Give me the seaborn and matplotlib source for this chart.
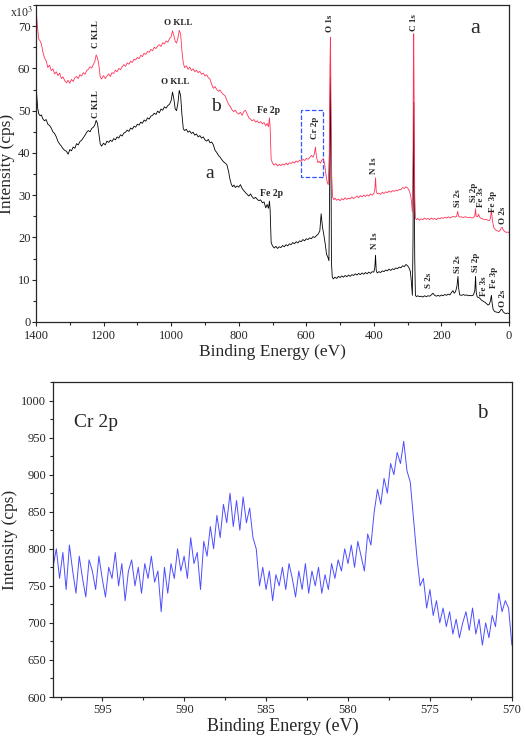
import matplotlib
matplotlib.use("Agg")
import matplotlib.pyplot as plt
import numpy as np
import seaborn as sns
from matplotlib.patches import Rectangle
from matplotlib.ticker import MultipleLocator

# survey spectrum, sample b (red), intensity in 10^3 cps
energy_b = [1400, 1396, 1392, 1388, 1384, 1380, 1375, 1370, 1365, 1360, 1355, 1350, 1345, 1340, 1335,
            1330, 1325, 1320, 1315, 1310, 1305, 1300, 1295, 1290, 1285, 1280, 1275, 1270, 1265, 1260,
            1255, 1250, 1245, 1240, 1235, 1230, 1226, 1222, 1218, 1214, 1210, 1206, 1200, 1195, 1190,
            1185, 1180, 1175, 1170, 1165, 1160, 1155, 1150, 1145, 1140, 1135, 1130, 1125, 1120, 1115,
            1110, 1105, 1100, 1095, 1090, 1085, 1080, 1075, 1070, 1065, 1060, 1055, 1050, 1045, 1040,
            1035, 1030, 1025, 1020, 1015, 1010, 1005, 1000, 996, 992, 988, 984, 980, 976, 972,
            968, 964, 960, 955, 950, 945, 940, 935, 930, 925, 920, 915, 910, 905, 900,
            895, 890, 885, 880, 875, 870, 865, 860, 855, 850, 845, 840, 835, 830, 825,
            820, 815, 810, 805, 800, 795, 790, 785, 780, 775, 770, 765, 760, 755, 750,
            745, 740, 735, 730, 725, 720, 716, 712, 709, 707, 704, 700, 695, 690, 685,
            680, 675, 670, 665, 660, 655, 650, 645, 640, 635, 630, 625, 620, 615, 610,
            605, 600, 595, 590, 585, 580, 576, 573, 570, 566, 562, 558, 554, 550, 546,
            542, 538, 535, 532, 530, 528.5, 527, 525, 522, 518, 515, 510, 505, 500, 495,
            490, 485, 480, 475, 470, 465, 460, 455, 450, 445, 440, 435, 430, 425, 420,
            415, 410, 405, 400, 397, 395, 393, 390, 385, 380, 375, 370, 365, 360, 355,
            350, 345, 340, 335, 330, 325, 320, 315, 310, 305, 300, 296, 292, 289, 286,
            284, 283, 282, 281, 279, 277, 274, 270, 265, 260, 255, 250, 245, 240, 235,
            230, 225, 220, 215, 210, 205, 200, 195, 190, 185, 180, 175, 170, 165, 160,
            155, 152, 149, 145, 140, 135, 130, 125, 120, 115, 110, 105, 101, 99, 97,
            93, 90, 87, 83, 78, 73, 68, 63, 58, 55, 52, 49, 45, 40, 35,
            30, 26, 23, 20, 17, 13, 8, 4, 0]
counts_b = [74.5, 70.0, 67.0, 66.5, 65.8, 64.0, 62.5, 61.8, 60.2, 60.8, 59.5, 59.9, 58.7, 59.2, 58.3,
            58.9, 57.6, 58.0, 57.1, 56.6, 57.2, 56.5, 57.4, 56.9, 57.8, 58.1, 57.6, 58.5, 58.2, 59.0,
            58.6, 59.5, 59.8, 60.4, 60.1, 61.0, 61.6, 63.2, 62.5, 60.8, 58.0, 57.5, 58.3, 57.6, 58.2,
            58.7, 58.1, 59.0, 58.8, 59.6, 59.2, 60.0, 59.7, 60.4, 60.9, 60.5, 61.3, 61.0, 61.7, 61.4,
            62.2, 62.0, 62.6, 62.3, 63.1, 62.8, 63.6, 63.3, 64.0, 63.8, 64.5, 64.2, 65.0, 64.7, 65.3,
            65.6, 65.2, 66.1, 65.8, 66.5, 66.2, 67.0, 67.5, 68.9, 67.8, 66.4, 66.0, 67.2, 69.0, 68.2,
            64.0, 61.2, 60.2, 60.6, 59.8, 60.3, 59.5, 59.9, 59.2, 59.6, 59.0, 59.3, 58.6, 58.9, 58.2,
            58.5, 57.8, 57.5, 56.2, 55.3, 55.7, 55.0, 54.6, 54.9, 54.2, 53.8, 53.5, 52.4, 51.5, 51.0,
            50.2, 49.8, 50.1, 49.5, 49.2, 49.6, 48.9, 49.8, 50.1, 49.2, 48.3, 48.0, 47.6, 47.9, 47.3,
            47.6, 47.1, 47.4, 46.9, 47.2, 46.4, 47.0, 46.2, 48.3, 46.0, 38.5, 37.6, 37.1, 37.5, 36.9,
            37.3, 37.0, 37.4, 37.1, 37.6, 37.2, 37.7, 37.5, 37.9, 37.6, 38.1, 37.8, 38.3, 38.0, 38.5,
            38.2, 38.7, 38.5, 38.9, 39.4, 39.0, 39.8, 41.4, 39.2, 37.7, 38.0, 37.6, 38.3, 38.6, 37.5,
            35.0, 33.0, 32.5, 40.0, 60.0, 67.4, 55.0, 35.0, 29.5, 28.9, 29.3, 28.8, 29.1, 28.7, 29.2,
            28.9, 29.4, 29.0, 29.3, 29.1, 29.6, 29.2, 29.5, 29.8, 29.4, 29.9, 29.6, 30.0, 29.7, 30.1,
            29.8, 30.3, 30.0, 30.4, 31.5, 34.1, 31.0, 30.3, 30.5, 30.2, 30.7, 30.4, 30.8, 30.6, 31.0,
            30.7, 31.1, 30.9, 31.2, 31.0, 31.4, 31.3, 31.8, 31.6, 32.0, 31.7, 31.2, 30.2, 28.8, 26.0,
            40.0, 60.0, 68.2, 55.0, 30.0, 24.6, 24.2, 24.5, 24.1, 24.4, 24.2, 24.6, 24.3, 24.5, 24.2,
            24.6, 24.3, 24.5, 24.2, 24.6, 24.4, 24.7, 24.5, 24.8, 24.6, 24.9, 24.6, 24.8, 25.0, 24.8,
            25.0, 26.2, 25.0, 24.8, 24.9, 24.7, 24.9, 24.8, 24.7, 24.8, 24.6, 24.7, 25.2, 26.8, 25.0,
            24.9, 25.5, 24.8, 24.5, 24.4, 24.2, 24.3, 24.1, 24.0, 24.5, 26.4, 24.0, 22.3, 21.8, 21.6,
            21.4, 21.7, 22.3, 22.4, 21.8, 21.4, 21.2, 21.3, 21.1]

# survey spectrum, sample a (black)
energy_a = [1400, 1398, 1395, 1392, 1388, 1384, 1380, 1375, 1370, 1365, 1360, 1355, 1350, 1345, 1340,
            1335, 1330, 1325, 1320, 1315, 1310, 1305, 1300, 1295, 1290, 1285, 1280, 1275, 1270, 1265,
            1260, 1255, 1250, 1245, 1240, 1235, 1230, 1226, 1222, 1218, 1214, 1210, 1206, 1200, 1195,
            1190, 1185, 1180, 1175, 1170, 1165, 1160, 1155, 1150, 1145, 1140, 1135, 1130, 1125, 1120,
            1115, 1110, 1105, 1100, 1095, 1090, 1085, 1080, 1075, 1070, 1065, 1060, 1055, 1050, 1045,
            1040, 1035, 1030, 1025, 1020, 1015, 1010, 1005, 1000, 996, 992, 988, 984, 980, 976,
            972, 968, 964, 960, 955, 950, 945, 940, 935, 930, 925, 920, 915, 910, 905,
            900, 895, 890, 885, 880, 875, 870, 865, 860, 855, 850, 845, 840, 835, 830,
            826, 822, 818, 814, 810, 805, 800, 795, 790, 785, 780, 775, 770, 765, 760,
            755, 750, 745, 740, 735, 730, 725, 720, 716, 712, 709, 707, 704, 700, 695,
            690, 685, 680, 675, 670, 665, 660, 655, 650, 645, 640, 635, 630, 625, 620,
            615, 610, 605, 600, 595, 590, 585, 580, 575, 570, 565, 560, 556, 552, 548,
            544, 540, 536, 533, 531, 529.5, 528.5, 527, 525.5, 523, 520, 515, 510, 505, 500,
            495, 490, 485, 480, 475, 470, 465, 460, 455, 450, 445, 440, 435, 430, 425,
            420, 415, 410, 405, 400, 397, 395, 393, 390, 385, 380, 375, 370, 365, 360,
            355, 350, 345, 340, 335, 330, 325, 320, 315, 310, 305, 300, 296, 292, 289,
            286, 284, 283, 282, 281, 279, 277, 274, 270, 265, 260, 255, 250, 245, 240,
            235, 230, 225, 220, 215, 210, 205, 200, 195, 190, 185, 180, 175, 170, 166,
            162, 158, 154, 151, 149, 146, 140, 135, 130, 125, 120, 115, 110, 105, 101,
            99, 97, 94, 90, 86, 82, 78, 74, 70, 66, 62, 58, 55, 52, 50,
            47, 43, 40, 35, 30, 26, 23, 20, 17, 13, 8, 4, 0]
counts_a = [56.0, 54.0, 50.5, 49.3, 48.8, 49.0, 48.1, 47.6, 47.9, 46.8, 46.5, 45.9, 45.0, 44.6, 43.8,
            42.7, 42.1, 41.6, 41.0, 40.6, 40.4, 39.7, 40.8, 40.5, 41.4, 41.1, 42.2, 41.9, 42.7, 43.0,
            43.6, 44.2, 44.9, 45.3, 45.0, 45.8, 46.1, 46.6, 47.7, 47.0, 44.6, 42.2, 41.6, 42.3, 41.9,
            42.8, 42.5, 43.0, 42.7, 43.4, 43.1, 43.8, 43.5, 44.3, 44.0, 44.7, 44.9, 45.4, 45.1, 45.9,
            45.6, 46.3, 46.1, 46.8, 46.6, 47.3, 47.0, 47.8, 47.5, 48.3, 48.0, 48.7, 48.9, 49.4, 49.1,
            49.9, 49.5, 50.4, 50.1, 50.9, 50.6, 51.2, 51.5, 52.4, 54.4, 52.8, 50.4, 50.0, 51.8, 54.8,
            53.6, 49.0, 45.7, 45.3, 45.6, 44.9, 45.2, 44.6, 44.9, 44.2, 44.5, 43.8, 44.1, 43.5, 43.8,
            43.1, 42.8, 43.2, 42.4, 42.6, 41.9, 40.6, 40.1, 39.4, 39.0, 38.4, 37.9, 37.6, 37.2, 35.6,
            33.8, 32.6, 32.0, 32.4, 31.8, 32.2, 31.9, 32.5, 31.6, 31.1, 30.6, 30.2, 29.8, 30.3, 29.6,
            29.2, 29.5, 29.0, 28.7, 28.9, 28.2, 28.4, 27.0, 27.8, 26.9, 28.6, 26.5, 18.8, 18.0, 17.5,
            17.9, 17.4, 17.8, 17.6, 18.1, 17.8, 18.3, 18.0, 18.5, 18.3, 18.8, 18.5, 19.0, 18.7, 19.2,
            19.0, 19.5, 19.2, 19.7, 19.5, 19.9, 19.7, 20.2, 20.0, 20.4, 20.8, 21.5, 25.6, 22.4, 20.6,
            18.5, 16.0, 15.3, 14.5, 30.0, 52.0, 58.0, 40.0, 14.0, 10.6, 10.2, 10.6, 10.3, 10.8, 10.5,
            10.9, 10.6, 11.0, 10.7, 11.1, 10.8, 11.2, 11.0, 11.4, 11.1, 11.5, 11.2, 11.6, 11.3, 11.7,
            11.4, 11.8, 11.5, 11.9, 11.8, 13.0, 15.8, 12.2, 11.6, 11.9, 11.7, 12.1, 11.9, 12.3, 12.1,
            12.5, 12.2, 12.6, 12.4, 12.8, 12.6, 13.0, 12.8, 13.3, 13.1, 13.6, 13.3, 12.8, 12.0, 9.5,
            6.3, 20.0, 40.0, 52.0, 40.0, 15.0, 6.3, 6.0, 6.2, 6.0, 6.1, 5.9, 6.2, 6.0, 6.2,
            6.1, 6.4, 6.8, 6.3, 6.1, 6.3, 6.1, 6.4, 6.2, 6.5, 6.3, 6.6, 6.4, 7.0, 7.4,
            6.8, 7.2, 8.5, 10.8, 8.0, 6.4, 6.3, 6.5, 6.3, 6.4, 6.2, 6.3, 6.2, 6.4, 7.5,
            10.8, 7.0, 5.9, 5.8, 5.6, 5.2, 5.0, 4.8, 4.6, 4.3, 4.0, 4.2, 5.0, 6.3, 4.5,
            3.0, 2.5, 2.4, 2.3, 2.2, 2.6, 3.0, 2.9, 2.4, 2.1, 2.0, 2.1, 2.0]

# survey peak labels: (text, energy, height)
labels_b = [("C KLL", 1222, 68.2), ("Cr 2p", 574, 45.9), ("O 1s", 530, 70.6), ("C 1s", 280, 70.8),
            ("N 1s", 399, 37.0), ("Si 2s", 150, 29.2), ("Si 2p", 104, 30.7), ("Fe 3s", 83, 29.5),
            ("Fe 3p", 47, 28.5), ("O 2s", 17, 25.2)]
labels_a = [("C KLL", 1222, 51.5), ("N 1s", 397, 19.3), ("S 2s", 237, 9.9), ("Si 2s", 150, 13.6),
            ("Si 2p", 99, 14.1), ("Fe 3s", 73, 8.4), ("Fe 3p", 44, 10.6), ("O 2s", 17, 5.7)]

# Cr 2p high resolution scan, 598 -> 570 eV
cr_counts = [775, 800, 760, 795, 745, 805, 770, 740, 790, 760, 735, 785, 770, 745, 790,
             760, 735, 775, 760, 795, 750, 780, 730, 770, 785, 750, 775, 740, 780, 760,
             790, 755, 770, 715, 775, 740, 780, 760, 800, 770, 790, 760, 815, 780, 795,
             745, 810, 790, 830, 800, 845, 815, 860, 835, 875, 830, 865, 825, 870, 835,
             855, 815, 800, 750, 775, 745, 770, 730, 765, 750, 775, 745, 780, 760, 735,
             770, 745, 780, 740, 770, 750, 775, 740, 765, 745, 780, 760, 785, 770, 800,
             780, 805, 775, 810, 790, 770, 820, 805, 850, 880, 860, 895, 875, 915, 900,
             930, 915, 945, 905, 890, 840, 790, 750, 760, 720, 745, 710, 730, 700, 720,
             695, 715, 685, 705, 680, 700, 715, 690, 720, 685, 705, 670, 700, 680, 710,
             695, 740, 715, 730, 720, 670]
cr_energy = np.linspace(598, 570, len(cr_counts))

sns.set_style("ticks")
plt.rcParams['font.family'] = ['Liberation Serif', 'DejaVu Serif']
plt.rcParams['mathtext.fontset'] = 'stix'

fig = plt.figure(figsize=(5.25, 7.4), dpi=100)
ax1 = fig.add_axes([0.0686, 0.5649, 0.9009, 0.4283])
ax2 = fig.add_axes([0.101, 0.0581, 0.874, 0.4257])

red = '#ff3358'
sns.lineplot(x=energy_a, y=counts_a, ax=ax1, color='black', linewidth=0.6, estimator=None)
sns.lineplot(x=energy_b, y=counts_b, ax=ax1, color=red, linewidth=0.6, estimator=None)

ax1.set_xlim(1400, 0)
ax1.set_ylim(0, 75)
ax1.xaxis.set_major_locator(MultipleLocator(200))
ax1.xaxis.set_minor_locator(MultipleLocator(100))
ax1.yaxis.set_major_locator(MultipleLocator(10))
ax1.yaxis.set_minor_locator(MultipleLocator(5))
ax1.set_xlabel('Binding Energy (eV)', fontsize=12.5, labelpad=1)
ax1.set_ylabel('Intensity (cps)', fontsize=12.5, labelpad=2)
ax1.tick_params(labelsize=9, length=3, width=0.8, pad=1)
ax1.tick_params(axis='x', pad=3)
ax1.tick_params(which='minor', length=2, width=0.8)
ax1.text(-0.005, 0.975, r'x10$^3$', transform=ax1.transAxes, ha='right', va='center', fontsize=8.5)

for txt, e, h in labels_b + labels_a:
    ax1.text(e, h, txt, rotation=90, ha='center', va='center', fontsize=6.5, fontweight='bold')
ax1.text(979, 70.7, 'O KLL', ha='center', va='center', fontsize=6.5, fontweight='bold')
ax1.text(989, 56.7, 'O KLL', ha='center', va='center', fontsize=6.5, fontweight='bold')
ax1.text(713, 50.0, 'Fe 2p', ha='center', va='center', fontsize=7, fontweight='bold')
ax1.text(702, 30.4, 'Fe 2p', ha='center', va='center', fontsize=7, fontweight='bold')
ax1.text(867, 51.0, 'b', ha='center', va='center', fontsize=14)
ax1.text(885, 35.1, 'a', ha='center', va='center', fontsize=14)
ax1.text(101, 69.4, 'a', ha='center', va='center', fontsize=16)
ax1.add_patch(Rectangle((552, 34.4), 64, 15.8, fill=False, edgecolor='#3355ff',
                        linestyle='--', linewidth=0.9))

sns.lineplot(x=cr_energy, y=cr_counts, ax=ax2, color='#4d4dff', linewidth=0.7, estimator=None)
ax2.set_xlim(598, 570)
ax2.set_ylim(600, 1025)
ax2.xaxis.set_major_locator(MultipleLocator(5))
ax2.xaxis.set_minor_locator(MultipleLocator(2.5))
ax2.yaxis.set_major_locator(MultipleLocator(50))
ax2.yaxis.set_minor_locator(MultipleLocator(25))
ax2.set_xlabel('Binding Energy (eV)', fontsize=13, labelpad=1)
ax2.set_ylabel('Intensity (cps)', fontsize=12.5, labelpad=2)
ax2.tick_params(labelsize=9, length=3, width=0.8, pad=2)
ax2.tick_params(which='minor', length=2, width=0.8)
ax2.text(596.7, 970, 'Cr 2p', ha='left', va='center', fontsize=14)
ax2.text(571.8, 983, 'b', ha='center', va='center', fontsize=15)

for ax in (ax1, ax2):
    for s in ax.spines.values():
        s.set_linewidth(0.9)

fig.savefig('out.png', dpi=100)
